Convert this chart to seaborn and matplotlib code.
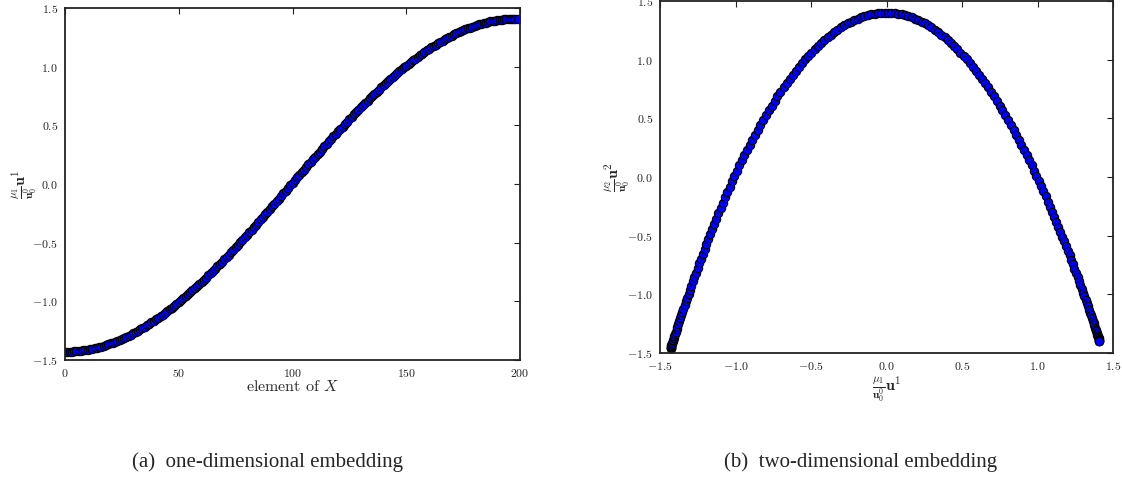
import matplotlib
matplotlib.use("Agg")
import matplotlib.pyplot as plt
import seaborn as sns
import pandas as pd

# ---- data ----
element = list(range(200))

u1 = [
    -1.430, -1.430, -1.429, -1.428, -1.427, -1.426, -1.424, -1.421, -1.419, -1.416,
    -1.412, -1.408, -1.404, -1.400, -1.395, -1.390, -1.385, -1.379, -1.373, -1.366,
    -1.359, -1.352, -1.345, -1.337, -1.329, -1.320, -1.311, -1.302, -1.293, -1.283,
    -1.273, -1.262, -1.251, -1.240, -1.229, -1.217, -1.205, -1.193, -1.180, -1.167,
    -1.154, -1.141, -1.127, -1.113, -1.099, -1.084, -1.069, -1.054, -1.039, -1.023,
    -1.007, -0.991, -0.975, -0.958, -0.941, -0.924, -0.907, -0.889, -0.872, -0.854,
    -0.835, -0.817, -0.798, -0.779, -0.760, -0.741, -0.722, -0.702, -0.682, -0.662,
    -0.642, -0.622, -0.602, -0.581, -0.560, -0.539, -0.518, -0.497, -0.476, -0.455,
    -0.433, -0.412, -0.390, -0.368, -0.346, -0.325, -0.302, -0.280, -0.258, -0.236,
    -0.214, -0.191, -0.169, -0.146, -0.124, -0.102, -0.079, -0.056, -0.034, -0.011,
    0.011, 0.033, 0.056, 0.078, 0.100, 0.122, 0.144, 0.167, 0.189, 0.211,
    0.233, 0.255, 0.276, 0.298, 0.320, 0.342, 0.363, 0.385, 0.406, 0.427,
    0.448, 0.470, 0.490, 0.511, 0.532, 0.552, 0.573, 0.593, 0.613, 0.633,
    0.653, 0.673, 0.692, 0.711, 0.731, 0.750, 0.768, 0.787, 0.805, 0.823,
    0.842, 0.859, 0.877, 0.894, 0.911, 0.928, 0.945, 0.961, 0.977, 0.993,
    1.009, 1.024, 1.039, 1.054, 1.069, 1.083, 1.097, 1.111, 1.125, 1.138,
    1.151, 1.164, 1.176, 1.188, 1.200, 1.212, 1.223, 1.234, 1.245, 1.255,
    1.265, 1.275, 1.284, 1.293, 1.302, 1.310, 1.318, 1.326, 1.333, 1.340,
    1.347, 1.354, 1.360, 1.365, 1.371, 1.376, 1.380, 1.385, 1.389, 1.393,
    1.396, 1.399, 1.401, 1.404, 1.406, 1.407, 1.408, 1.409, 1.410, 1.410,
]

u2 = [
    -1.460, -1.459, -1.457, -1.454, -1.448, -1.442, -1.434, -1.425, -1.414, -1.401,
    -1.388, -1.373, -1.356, -1.339, -1.320, -1.299, -1.278, -1.255, -1.230, -1.205,
    -1.178, -1.151, -1.122, -1.092, -1.060, -1.028, -0.995, -0.961, -0.926, -0.890,
    -0.853, -0.815, -0.776, -0.737, -0.697, -0.656, -0.614, -0.572, -0.529, -0.486,
    -0.442, -0.398, -0.354, -0.309, -0.264, -0.218, -0.173, -0.127, -0.081, -0.035,
    0.011, 0.055, 0.099, 0.143, 0.187, 0.231, 0.275, 0.318, 0.361, 0.403,
    0.445, 0.487, 0.528, 0.569, 0.609, 0.648, 0.687, 0.725, 0.763, 0.800,
    0.836, 0.871, 0.905, 0.938, 0.970, 1.002, 1.032, 1.061, 1.090, 1.117,
    1.143, 1.168, 1.192, 1.214, 1.236, 1.256, 1.275, 1.292, 1.309, 1.324,
    1.338, 1.350, 1.361, 1.371, 1.379, 1.386, 1.392, 1.396, 1.398, 1.400,
    1.400, 1.398, 1.396, 1.392, 1.386, 1.379, 1.371, 1.361, 1.350, 1.338,
    1.324, 1.309, 1.292, 1.275, 1.256, 1.236, 1.214, 1.192, 1.168, 1.143,
    1.117, 1.090, 1.061, 1.032, 1.002, 0.970, 0.938, 0.905, 0.871, 0.836,
    0.800, 0.763, 0.725, 0.687, 0.648, 0.609, 0.569, 0.528, 0.487, 0.445,
    0.403, 0.361, 0.318, 0.275, 0.231, 0.187, 0.143, 0.099, 0.055, 0.011,
    -0.033, -0.077, -0.121, -0.165, -0.209, -0.253, -0.296, -0.339, -0.382, -0.424,
    -0.466, -0.508, -0.549, -0.589, -0.629, -0.668, -0.706, -0.744, -0.781, -0.818,
    -0.853, -0.888, -0.921, -0.954, -0.986, -1.017, -1.047, -1.076, -1.103, -1.130,
    -1.155, -1.180, -1.203, -1.225, -1.246, -1.265, -1.284, -1.301, -1.316, -1.331,
    -1.344, -1.356, -1.366, -1.375, -1.383, -1.389, -1.394, -1.397, -1.399, -1.400,
]

ticks_150 = [-1.5, -1.0, -0.5, 0.0, 0.5, 1.0, 1.5]
ticks_elem = [0, 50, 100, 150, 200]

captions = ["(a)  one-dimensional embedding", "(b)  two-dimensional embedding"]
ylabel_a = r"$\frac{\mu_1}{\mathbf{u}_0^0}\mathbf{u}^1$"
ylabel_b = r"$\frac{\mu_2}{\mathbf{u}_0^0}\mathbf{u}^2$"
xlabel_a = r"element of $X$"
xlabel_b = r"$\frac{\mu_1}{\mathbf{u}_0^0}\mathbf{u}^1$"

df = pd.DataFrame({"element": element, "u1": u1, "u2": u2})

# ---- style ----
sns.set_theme(style="white")
plt.rcParams.update({
    "font.family": ["cmr10", "DejaVu Serif"],
    "mathtext.fontset": "cm",
    "axes.formatter.use_mathtext": True,
    "axes.unicode_minus": True,
    "xtick.direction": "in",
    "ytick.direction": "in",
    "xtick.top": True,
    "ytick.right": True,
    "xtick.major.size": 4,
    "ytick.major.size": 4,
    "xtick.major.width": 0.8,
    "ytick.major.width": 0.8,
    "xtick.major.pad": 5,
    "ytick.major.pad": 5,
    "xtick.labelsize": 8.5,
    "ytick.labelsize": 8.5,
    "xtick.color": "#222222",
    "ytick.color": "#222222",
    "axes.edgecolor": "#222222",
    "axes.linewidth": 1.3,
})

W, H = 1122, 478
fig = plt.figure(figsize=(W / 100, H / 100), dpi=100)

ax1 = fig.add_axes([65 / W, 1 - 360 / H, (520 - 65) / W, (360 - 8) / H])
ax2 = fig.add_axes([660 / W, 1 - 353 / H, (1113 - 660) / W, (353 - 1) / H])

mk = dict(color="#0000ff", edgecolor="black", linewidth=0.8, s=36, legend=False, zorder=3)

sns.scatterplot(data=df, x="element", y="u1", ax=ax1, **mk)
sns.scatterplot(data=df, x="u1", y="u2", ax=ax2, **mk)

ax1.set_xlim(0, 200)
ax1.set_ylim(-1.5, 1.5)
ax1.set_xticks(ticks_elem)
ax1.set_yticks(ticks_150)
ax1.set_xlabel(xlabel_a, fontsize=11.5)
ax1.set_ylabel(ylabel_a, fontsize=11.5)
ax1.xaxis.set_label_coords(0.5, -0.055)
ax1.yaxis.set_label_coords(-0.058, 0.5)

ax2.set_xlim(-1.5, 1.5)
ax2.set_ylim(-1.5, 1.5)
ax2.set_xticks(ticks_150)
ax2.set_yticks(ticks_150)
ax2.set_xlabel(xlabel_b, fontsize=11.5)
ax2.set_ylabel(ylabel_b, fontsize=11.5)
ax2.xaxis.set_label_coords(0.5, -0.06)
ax2.yaxis.set_label_coords(-0.062, 0.5)

for ax in (ax1, ax2):
    ax.tick_params(which="both", top=True, right=True, labeltop=False, labelright=False)
    for sp in ax.spines.values():
        sp.set_visible(True)
        sp.set_zorder(5)

fig.text(268 / W, 1 - 462 / H, captions[0], ha="center", va="center",
         fontsize=15, family=["Liberation Serif", "DejaVu Serif"])
fig.text(861 / W, 1 - 462 / H, captions[1], ha="center", va="center",
         fontsize=15, family=["Liberation Serif", "DejaVu Serif"])

fig.savefig("out.png", dpi=100)
